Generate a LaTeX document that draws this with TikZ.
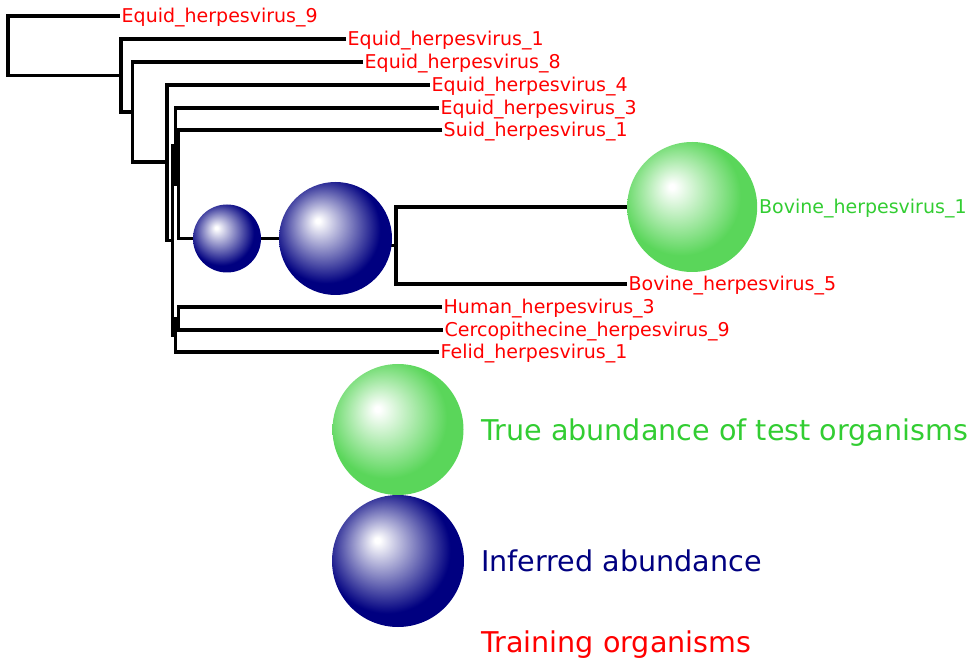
\documentclass[tikz,border=0pt]{standalone}
\usepackage{fontspec}
\setmainfont{DejaVu Sans}
\definecolor{infblue}{RGB}{0,0,128}
\definecolor{truegreen}{RGB}{50,205,50}
\definecolor{ballgreen}{RGB}{90,214,90}
\definecolor{trainred}{RGB}{255,0,0}
\pgfdeclareradialshading{blueball}{\pgfpoint{-8bp}{8bp}}{color(0bp)=(white);color(1bp)=(white);color(24bp)=(infblue);color(50bp)=(infblue)}
\pgfdeclareradialshading{greenball}{\pgfpoint{-8bp}{8bp}}{color(0bp)=(white);color(1bp)=(white);color(23bp)=(ballgreen);color(50bp)=(ballgreen)}

\begin{document}
\begin{tikzpicture}[x=1pt,y=-1pt,
  branch/.style={draw=black,line width=3.2pt},
  leaf/.style={anchor=west,inner xsep=1.5pt,inner ysep=0pt,text height=14pt,text depth=0pt,text=trainred,font=\fontsize{19}{22}\selectfont},
  inferred/.style={circle,inner sep=0pt,shade,shading=blueball},
  truth/.style={circle,inner sep=0pt,shade,shading=greenball},
  legend/.style={anchor=base west,inner sep=0pt,font=\fontsize{28.6}{32}\selectfont}]
  \useasboundingbox (0,0) rectangle (970,660);

  \coordinate (root) at (8,45.5);
  \coordinate (n1) at (121,75.5);
  \coordinate (n2) at (132.5,112);
  \coordinate (n3) at (167,162);
  \coordinate (n4) at (172.5,240.5);
  \coordinate (n5) at (175.5,146);
  \coordinate (n6) at (178.5,184);
  \coordinate (n7) at (227,238.5);
  \coordinate (n8) at (335.5,238.5);
  \coordinate (n9) at (396,245.5);
  \coordinate (n10) at (175.5,335);
  \coordinate (n11) at (178.5,318.5);

  \node[leaf] (e9) at (120,16) {Equid\_herpesvirus\_9};
  \node[leaf] (e1) at (346,39) {Equid\_herpesvirus\_1};
  \node[leaf] (e8) at (363,62) {Equid\_herpesvirus\_8};
  \node[leaf] (e4) at (430,85) {Equid\_herpesvirus\_4};
  \node[leaf] (e3) at (439,108) {Equid\_herpesvirus\_3};
  \node[leaf] (s1) at (442,130) {Suid\_herpesvirus\_1};
  \node[truth,minimum size=130pt,anchor=west] (b1) at (627,207) {};
  \node[leaf,text=truegreen] (l1) at (b1.east) {Bovine\_herpesvirus\_1};
  \node[leaf] (b5) at (627,284) {Bovine\_herpesvirus\_5};
  \node[leaf] (h3) at (442,307) {Human\_herpesvirus\_3};
  \node[leaf] (c9) at (443,330) {Cercopithecine\_herpesvirus\_9};
  \node[leaf] (f1) at (439,352) {Felid\_herpesvirus\_1};

  \draw[branch] (e9.west) -| (root) |- (n1);
  \draw[branch] (e1.west) -| (n1) |- (n2);
  \draw[branch] (e8.west) -| (n2) |- (n3);
  \draw[branch] (e4.west) -| (n3) |- (n4);
  \draw[branch] (n5) -| (n4) |- (n10);
  \draw[branch] (e3.west) -| (n5) |- (n6);
  \draw[branch] (s1.west) -| (n6) |- (n7);
  \draw[branch] (n7) -- (n8) |- (n9);
  \draw[branch] (b1.west) -| (n9) |- (b5.west);
  \draw[branch] (n11) -| (n10) |- (f1.west);
  \draw[branch] (h3.west) -| (n11) |- (c9.west);

  \node[inferred,minimum size=68pt] (a7) at (n7) {};
  \node[inferred,minimum size=113pt] (a8) at (n8) {};

  \node[truth,minimum size=131pt] (kt) at (398,429.5) {};
  \node[inferred,minimum size=132pt] (ki) at (398,561) {};
  \node[legend,text=truegreen] (tt) at (481,440) {True abundance of test organisms};
  \node[legend,text=infblue] (ti) at (481,571) {Inferred abundance};
  \node[legend,text=trainred] (tr) at (481,652) {Training organisms};
\end{tikzpicture}
\end{document}
